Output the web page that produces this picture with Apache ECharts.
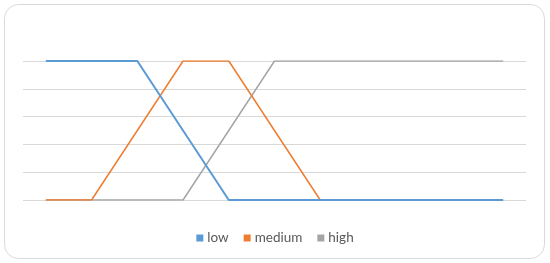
<!DOCTYPE html>
<html>
<head>
<meta charset="utf-8">
<script src="https://cdn.jsdelivr.net/npm/echarts@6/dist/echarts.min.js"></script>
<style>
  html, body { margin: 0; padding: 0; background: #fff; }
  #main { width: 550px; height: 263px; }
</style>
</head>
<body>
<div id="main"></div>
<script>
// x categories (no labels shown in the picture)
const categories = ['0', '1', '2', '3', '4', '5', '6', '7', '8', '9', '10'];
const lowValues = [1, 1, 1, 0.5, 0, 0, 0, 0, 0, 0, 0];
const mediumValues = [0, 0, 0.5, 1, 1, 0.5, 0, 0, 0, 0, 0];
const highValues = [0, 0, 0, 0, 0.5, 1, 1, 1, 1, 1, 1];

const myChart = echarts.init(document.getElementById('main'));

function lineSeries(name, data, color, width) {
    return {
        name: name,
        type: 'line',
        data: data,
        symbol: 'none',
        lineStyle: { color: color, width: width },
        itemStyle: { color: color }
    };
}

const option = {
    animation: false,
    graphic: [{
        type: 'rect',
        shape: { x: 4.5, y: 4.5, width: 540, height: 254, r: 14 },
        style: { fill: 'none', stroke: '#d9d9d9', lineWidth: 1 },
        z: -1
    }],
    grid: { left: 23, right: 24, top: 61, bottom: 63 },
    legend: {
        bottom: 13,
        left: 'center',
        icon: 'rect',
        itemWidth: 7,
        itemHeight: 7,
        itemGap: 15,
        textStyle: { color: '#595959', fontSize: 13.5, fontFamily: 'Lato', padding: [0, 0, 0, -1] },
        data: ['low', 'medium', 'high']
    },
    xAxis: {
        type: 'category',
        data: categories,
        boundaryGap: true,
        axisLine: { show: false },
        axisTick: { show: false },
        axisLabel: { show: false }
    },
    yAxis: {
        type: 'value',
        min: 0,
        max: 1,
        interval: 0.2,
        axisLabel: { show: false },
        axisLine: { show: false },
        axisTick: { show: false },
        splitLine: { lineStyle: { color: '#d9d9d9', width: 1 } }
    },
    // drawn back to front: high, medium, then low on top
    series: [
        lineSeries('high', highValues, '#a5a5a5', 1.5),
        lineSeries('medium', mediumValues, '#ed7d31', 1.5),
        lineSeries('low', lowValues, '#5b9bd5', 2)
    ]
};

myChart.setOption(option);
</script>
</body>
</html>
